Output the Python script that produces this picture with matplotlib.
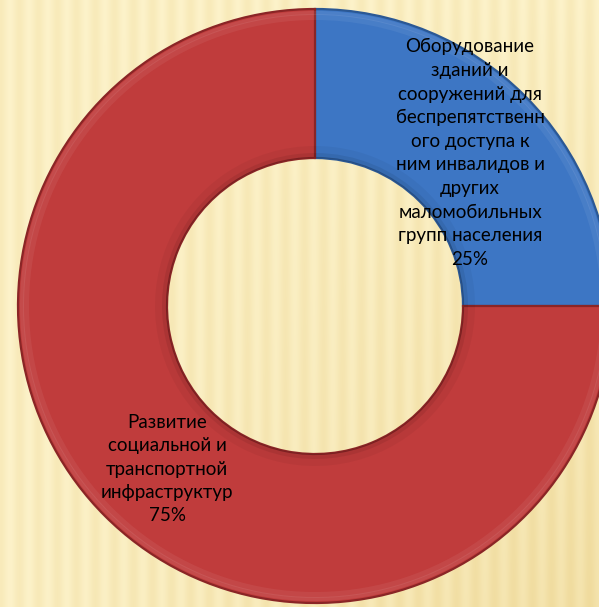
"""
Donut chart: structure of the accessibility programme spending.
"""
import matplotlib
matplotlib.use('Agg')
import matplotlib.pyplot as plt
import numpy as np

LABELS = [
    'Оборудование\nзданий и\nсооружений для\nбеспрепятственн\nого доступа к\nним инвалидов и\nдругих\nмаломобильных\nгрупп населения',
    'Развитие\nсоциальной и\nтранспортной\nинфраструктур',
]
SHARES = [25, 75]
COLORS = ['#3D76C4', '#C03C3C']
EDGES = ['#2B5894', '#8A2526']

W, H = 599, 607

fig = plt.figure(figsize=(W / 100, H / 100), dpi=100)
ax = fig.add_axes([0, 0, 1, 1])

# striped paper background (rows from top to bottom)
xx = np.arange(W)
stripe = 0.5 + 0.5 * np.cos(2 * np.pi * xx / 19.0)
shade = np.linspace(0.0, 1.0, H)[:, None] * (xx[None, :] / W)
light = np.array([0.99, 0.95, 0.79])
dark = np.array([0.93, 0.84, 0.58])
mix = np.clip(0.28 * stripe[None, :] + 0.55 * shade, 0, 1)[..., None]
bg = light * (1 - mix) + dark * mix
ax.imshow(bg, extent=[0, W, 0, H], origin='upper', zorder=0, interpolation='bilinear')

# pixel position of the ring centre, y measured from the top
cx, cy, r_out, r_in = 315, 306, 297, 148
centre = (cx, H - cy)

wedges, _ = ax.pie(SHARES, colors=COLORS, startangle=90, counterclock=False,
                   radius=r_out, center=centre,
                   wedgeprops=dict(width=r_out - r_in, linewidth=1.6))
for w, ec in zip(wedges, EDGES):
    w.set_edgecolor(ec)
    w.set_zorder(2)

# bevel: soft light rim near the outer edge, darker shading towards the hole
for r, wd, col, a in [(r_out - 2, 4, 'white', 0.08),
                      (r_out - 5, 6, 'white', 0.06),
                      (r_in + 12, 12, 'black', 0.04),
                      (r_in + 5, 5, 'black', 0.07)]:
    band, _ = ax.pie(SHARES, colors=[col, col], startangle=90, counterclock=False,
                     radius=r, center=centre,
                     wedgeprops=dict(width=wd, linewidth=0, alpha=a))
    for b in band:
        b.set_zorder(3)

font = ['Lato', 'DejaVu Sans']
ax.text(470, H - 153, LABELS[0] + f'\n{SHARES[0]}%', ha='center', va='center',
        fontsize=13.5, family=font, color='black', linespacing=1.47, zorder=5)
ax.text(167, H - 469, LABELS[1] + f'\n{SHARES[1]}%', ha='center', va='center',
        fontsize=13.5, family=font, color='black', linespacing=1.44, zorder=5)

ax.set_xlim(0, W)
ax.set_ylim(0, H)
ax.set_aspect('equal')
ax.axis('off')

plt.savefig('out.png', dpi=100, facecolor='white')
plt.close()
